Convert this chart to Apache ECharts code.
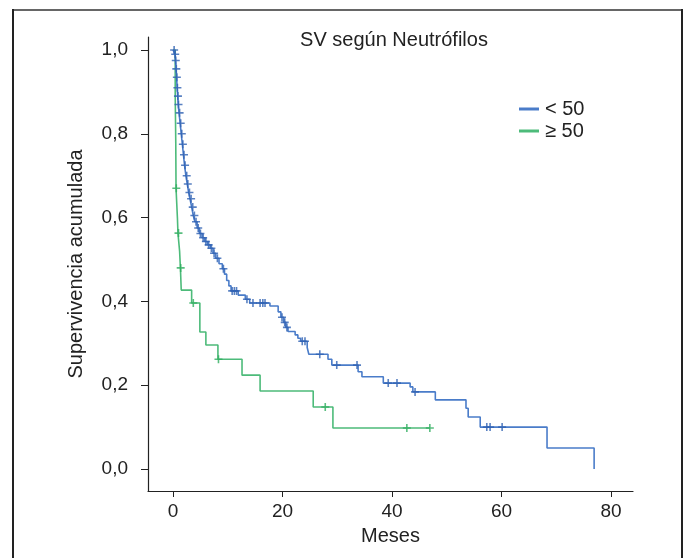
<!DOCTYPE html>
<html>
<head>
    <meta charset="utf-8">
    <title>SV según Neutrófilos</title>
    <script src="https://cdn.jsdelivr.net/npm/echarts@6/dist/echarts.min.js"></script>
</head>
<body style="margin:0;background:#fff;">
    <div id="main" style="width:686px;height:558px;"></div>
    <script type="text/javascript">
        // curva < 50 : tiempos (meses) y supervivencia tras cada evento
        var lowTimes = [0, 0.35, 0.45, 0.55, 0.65, 0.75, 0.85, 0.95, 1.1, 1.3, 1.5, 1.7, 1.9, 2.1, 2.35, 2.6, 2.85, 3.1, 3.4, 3.7,
            4.0, 4.4, 4.8, 5.3, 5.8, 6.3, 6.8, 7.3, 7.8, 8.4, 9.0, 9.4, 9.8, 10.2, 10.6, 11.9, 13.2, 14.0, 17.7, 19.2,
            19.7, 20.2, 20.6, 21.0, 22.3, 22.8, 23.3, 24.5, 24.8, 28.3, 29.0, 33.8, 34.5, 38.4, 43.3, 43.8, 47.9, 53.5, 53.9, 56.1,
            68.3, 76.9];
        var lowSurv = [1.0, 0.99, 0.975, 0.955, 0.935, 0.91, 0.89, 0.87, 0.85, 0.825, 0.80, 0.775, 0.75, 0.725, 0.70, 0.68, 0.66, 0.645, 0.625, 0.605,
            0.59, 0.575, 0.562, 0.552, 0.543, 0.535, 0.527, 0.515, 0.503, 0.49, 0.478, 0.465, 0.45, 0.437, 0.425, 0.415, 0.405, 0.396, 0.389, 0.375,
            0.362, 0.35, 0.338, 0.328, 0.32, 0.312, 0.305, 0.29, 0.274, 0.262, 0.248, 0.232, 0.22, 0.205, 0.196, 0.184, 0.165, 0.145, 0.124, 0.1,
            0.05, 0.0];
        var lowCensored = [0.2, 0.4, 0.5, 0.6, 0.7, 0.8, 0.9, 1.0, 1.2, 1.4, 1.6, 1.8, 2.0, 2.2, 2.5, 2.7, 3.0, 3.3, 3.6, 3.9,
            4.2, 4.6, 5.0, 5.5, 6.0, 6.5, 7.0, 7.5, 8.1, 9.2, 10.8, 11.2, 11.6, 13.5, 14.6, 15.9, 16.4, 16.8, 19.9, 20.4,
            20.8, 23.6, 24.1, 26.8, 29.9, 33.6, 39.3, 40.9, 44.2, 57.3, 57.9, 60.1];

        // curva >= 50
        var highTimes = [0, 0.4, 0.5, 0.55, 0.8, 0.9, 1.2, 1.35, 1.5, 3.4, 4.9, 6.0, 8.2, 12.6, 15.9, 25.6, 29.2, 46.9];
        var highSurv = [1.0, 0.89, 0.78, 0.67, 0.60, 0.563, 0.52, 0.48, 0.427, 0.396, 0.327, 0.296, 0.262, 0.224, 0.186, 0.148, 0.098, 0.098];
        var highCensored = [0.6, 1.0, 1.4, 3.7, 8.3, 27.8, 42.7, 46.9];

        var groupNames = ['< 50', '≥ 50'];
        var yTicks = [0, 0.2, 0.4, 0.6, 0.8, 1.0];
        var xTicks = [0, 20, 40, 60, 80];

        var blue = '#4a7cc9';
        var blueMark = '#2f62b3';
        var green = '#4dbb7a';
        var greenMark = '#2fae5f';
        var plusPath = 'path://M4,0h2v4h4v2h-4v4h-2v-4h-4v-2h4z';
        var font = 'Liberation Sans, Arial, sans-serif';

        function pairs(ts, ss) {
            return ts.map(function (t, i) { return [t, ss[i]]; });
        }
        function survAt(ts, ss, t) {
            var s = ss[0];
            for (var i = 0; i < ts.length; i++) {
                if (ts[i] <= t) s = ss[i];
            }
            return s;
        }
        function marks(cs, ts, ss) {
            return cs.map(function (t) { return [t, survAt(ts, ss, t)]; });
        }

        var dom = document.getElementById('main');
        var myChart = echarts.init(dom, null, { renderer: 'canvas' });

        var option = {
            backgroundColor: '#fff',
            animation: false,
            textStyle: { fontFamily: font },
            title: {
                text: 'SV según Neutrófilos',
                left: 389,
                top: 25,
                textAlign: 'center',
                textStyle: { fontSize: 20, fontWeight: 'normal', color: '#222', fontFamily: font }
            },
            legend: {
                data: groupNames,
                orient: 'vertical',
                left: 514,
                top: 94,
                itemWidth: 20,
                itemHeight: 3,
                itemGap: 2,
                icon: 'rect',
                textStyle: { fontSize: 20, color: '#222', fontFamily: font, padding: [0, 0, 0, 1] }
            },
            grid: { left: 148, right: 53, top: 37, bottom: 67 },
            xAxis: {
                type: 'value',
                min: -4.57,
                max: 84,
                name: 'Meses',
                nameLocation: 'middle',
                nameGap: 35,
                nameTextStyle: { fontSize: 20, color: '#222', fontFamily: font },
                splitLine: { show: false },
                axisLine: { onZero: false, lineStyle: { color: '#222', width: 1.2 } },
                axisTick: { customValues: xTicks, length: 6, lineStyle: { color: '#222' } },
                axisLabel: { customValues: xTicks, fontSize: 19, color: '#222', margin: 11, fontFamily: font }
            },
            yAxis: {
                type: 'value',
                min: -0.0525,
                max: 1.031,
                name: 'Supervivencia acumulada',
                nameLocation: 'middle',
                nameGap: 62,
                nameTextStyle: { fontSize: 20, color: '#222', fontFamily: font },
                splitLine: { show: false },
                axisLine: { show: true, onZero: false, lineStyle: { color: '#222', width: 1.2 } },
                axisTick: { show: true, customValues: yTicks, length: 7, lineStyle: { color: '#222' } },
                axisLabel: {
                    customValues: yTicks,
                    fontSize: 19,
                    color: '#222',
                    margin: 20,
                    fontFamily: font,
                    formatter: function (v) { return v.toFixed(1).replace('.', ','); }
                }
            },
            series: [{
                name: groupNames[1],
                type: 'line',
                step: 'end',
                data: pairs(highTimes, highSurv),
                showSymbol: false,
                color: green,
                lineStyle: { color: green, width: 1.6 },
                z: 2
            }, {
                name: 'cens2',
                type: 'scatter',
                data: marks(highCensored, highTimes, highSurv),
                symbol: plusPath,
                symbolSize: 8,
                itemStyle: { color: greenMark },
                z: 3
            }, {
                name: groupNames[0],
                type: 'line',
                step: 'end',
                data: pairs(lowTimes, lowSurv),
                showSymbol: false,
                color: blue,
                lineStyle: { color: blue, width: 1.6 },
                z: 4
            }, {
                name: 'cens1',
                type: 'scatter',
                data: marks(lowCensored, lowTimes, lowSurv),
                symbol: plusPath,
                symbolSize: 8,
                itemStyle: { color: blueMark },
                z: 5
            }],
            graphic: [
                { type: 'line', shape: { x1: 13, y1: 10, x2: 682, y2: 10 }, style: { stroke: '#666', lineWidth: 2 } },
                { type: 'line', shape: { x1: 13, y1: 9, x2: 13, y2: 558 }, style: { stroke: '#222', lineWidth: 2 } },
                { type: 'line', shape: { x1: 682, y1: 9, x2: 682, y2: 558 }, style: { stroke: '#222', lineWidth: 2 } }
            ]
        };

        if (option && typeof option === 'object') {
            myChart.setOption(option, true);
        }
    </script>
</body>
</html>
